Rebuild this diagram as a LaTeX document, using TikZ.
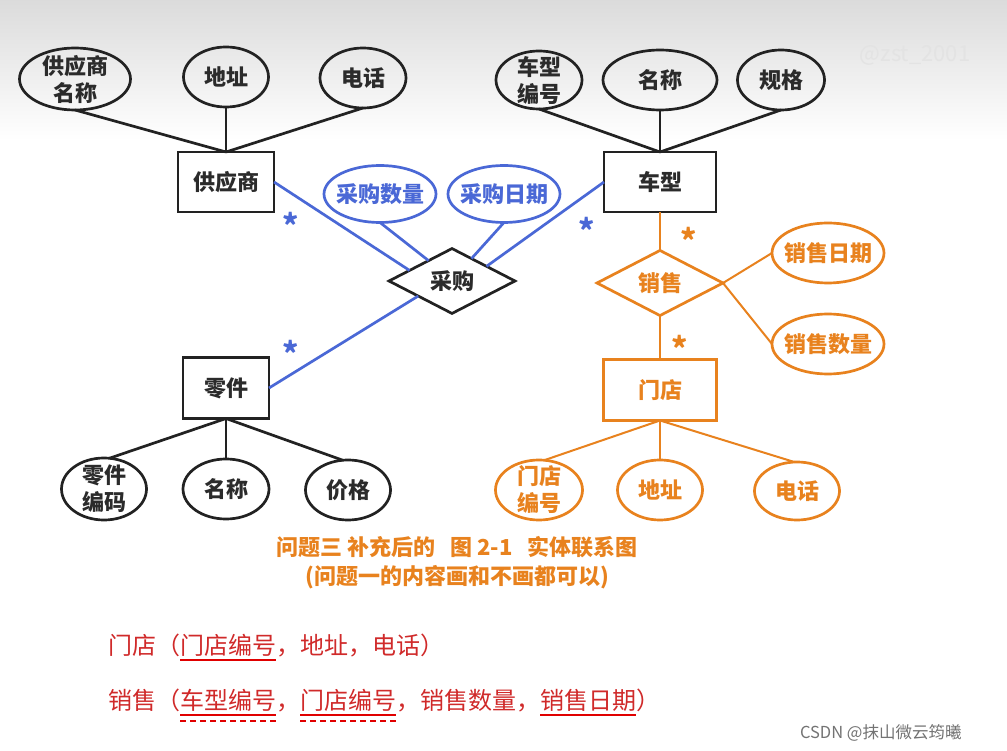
\documentclass[tikz,border=0pt]{standalone}
\usepackage{fontspec}
\setmainfont{Noto Sans CJK SC}
\usetikzlibrary{shapes.geometric}
\definecolor{dk}{HTML}{222222}
\definecolor{dktext}{HTML}{2B2B2B}
\definecolor{bl}{HTML}{4A68D6}
\definecolor{og}{HTML}{E8821E}
\definecolor{rd}{HTML}{D02A2A}
\definecolor{ulred}{HTML}{E00000}
\begin{document}
\begin{tikzpicture}[x=1pt,y=-1pt,
  every node/.style={inner sep=0pt, outer sep=0pt, font=\fontsize{22}{27}\selectfont\bfseries},
  attr/.style={ellipse, draw, line width=2.7pt},
  ent/.style={rectangle, draw, line width=2.7pt},
  rel/.style={diamond, draw, line width=2.7pt},
  blk/.style={draw=dk, text=dktext},
  blu/.style={draw=bl, text=bl},
  org/.style={draw=og, text=og},
  lblk/.style={align=center, text=dktext},
  lblu/.style={align=center, text=bl},
  lorg/.style={align=center, text=og},
  dline/.style={draw=dk, line width=2.7pt},
  bline/.style={draw=bl, line width=2.7pt},
  oline/.style={draw=og, line width=2pt},
  star/.style={font=\fontsize{31}{31}\selectfont\bfseries, anchor=base},
  rt/.style={font=\fontsize{24}{28}\selectfont\mdseries, text=rd, anchor=base west},
  ul/.style={draw=ulred, line width=2.6pt},
  uld/.style={draw=ulred, line width=1.8pt, dash pattern=on 6pt off 4pt}
]
\useasboundingbox (0,0) rectangle (1007,751);
\fill[white] (0,0) rectangle (1007,751);
\shade[top color=black!14, bottom color=white] (0,0) rectangle (1007,140);
\node[font=\fontsize{22}{22}\selectfont, text=black!11] (wm) at (915,55) {@zst\_2001};

% ---------- supplier ----------
\node[attr, blk, minimum width=111pt, minimum height=62pt, label={[lblk]center:供应商\\名称}] (gysmc) at (75,79) {};
\node[attr, blk, minimum width=85pt, minimum height=60pt, label={[lblk]center:地址}] (gysdz) at (226,77) {};
\node[attr, blk, minimum width=86pt, minimum height=60pt, label={[lblk]center:电话}] (gysdh) at (363,78) {};
\node[ent, blk, minimum width=96pt, minimum height=60pt] (gys) at (226,182) {供应商};
\draw[dline] (gysmc.south) -- (gys.north);
\draw[dline] (gysdz.south) -- (gys.north);
\draw[dline] (gysdh.south) -- (gys.north);

% ---------- car model ----------
\node[attr, blk, minimum width=86pt, minimum height=58pt, label={[lblk]center:车型\\编号}] (cxbh) at (539,80) {};
\node[attr, blk, minimum width=114pt, minimum height=60pt, label={[lblk]center:名称}] (cxmc) at (660,80) {};
\node[attr, blk, minimum width=87pt, minimum height=60pt, label={[lblk]center:规格}] (cxgg) at (781,80) {};
\node[ent, blk, minimum width=112pt, minimum height=60pt] (cx) at (660,182) {车型};
\draw[dline] (cxbh.south) -- (cx.north);
\draw[dline] (cxmc.south) -- (cx.north);
\draw[dline] (cxgg.south) -- (cx.north);

% ---------- part ----------
\node[ent, blk, minimum width=86pt, minimum height=61pt] (lj) at (226,388) {零件};
\node[attr, blk, minimum width=85pt, minimum height=62pt, label={[lblk]center:零件\\编码}] (ljbm) at (104,489) {};
\node[attr, blk, minimum width=86pt, minimum height=60pt, label={[lblk]center:名称}] (ljmc) at (226,489) {};
\node[attr, blk, minimum width=85pt, minimum height=60pt, label={[lblk]center:价格}] (ljjg) at (348,490) {};
\draw[dline] (lj.south) -- (ljbm.80);
\draw[dline] (lj.south) -- (ljmc.north);
\draw[dline] (lj.south) -- (ljjg.100);

% ---------- purchase ----------
\node[rel, blk, minimum width=126pt, minimum height=64pt] (cg) at (452,281) {采购};
\node[attr, blu, minimum width=112pt, minimum height=57pt, label={[lblu]center:采购数量}] (cgsl) at (380,194) {};
\node[attr, blu, minimum width=112pt, minimum height=57pt, label={[lblu]center:采购日期}] (cgrq) at (504,194) {};
\draw[bline] (gys.east) -- (cg.166);
\draw[bline] (cx.west) -- (cg.23);
\draw[bline] (lj.east) -- (cg.204);
\draw[bline] (cgsl.south) -- (cg.139);
\draw[bline] (cgrq.south) -- (cg.49);
\node[star, text=bl] (s1) at (291,238) {*};
\node[star, text=bl] (s2) at (587,243) {*};
\node[star, text=bl] (s3) at (291,366) {*};

% ---------- sale ----------
\node[rel, org, minimum width=126pt, minimum height=62pt] (xs) at (660,283) {销售};
\node[ent, org, minimum width=113pt, minimum height=61pt] (md) at (660,390) {门店};
\node[attr, org, minimum width=112pt, minimum height=60pt, label={[lorg]center:销售日期}] (xsrq) at (828,253) {};
\node[attr, org, minimum width=112pt, minimum height=60pt, label={[lorg]center:销售数量}] (xssl) at (828,344) {};
\node[attr, org, minimum width=87pt, minimum height=60pt, label={[lorg]center:门店\\编号}] (mdbh) at (539,490) {};
\node[attr, org, minimum width=85pt, minimum height=60pt, label={[lorg]center:地址}] (mddz) at (660,490) {};
\node[attr, org, minimum width=85pt, minimum height=58pt, label={[lorg]center:电话}] (mddh) at (797,491) {};
\draw[oline] (cx.south) -- (xs.north);
\draw[oline] (xs.south) -- (md.north);
\draw[oline] (xs.east) -- (xsrq.west);
\draw[oline] (xs.east) -- (xssl.west);
\draw[oline] (md.south) -- (mdbh.80);
\draw[oline] (md.south) -- (mddz.north);
\draw[oline] (md.south) -- (mddh.95);
\node[star, text=og] (s4) at (689,253) {*};
\node[star, text=og] (s5) at (680,360) {*};

% ---------- caption ----------
\node[text=og, align=center, font=\fontsize{22}{29}\selectfont\bfseries] (cap) at (457,563) {问题三 补充后的\ \ \ 图 2-1\ \ \ 实体联系图\\(问题一的内容画和不画都可以)};

% ---------- relational schema ----------
\node[rt] (a1) at (108,654) {门店（};
\node[rt] (a2) at (a1.base east) {门店编号};
\node[rt] (a3) at (a2.base east) {，地址，电话）};
\draw[ul] ([yshift=-6pt]a2.base west) -- ([yshift=-6pt]a2.base east);

\node[rt] (b1) at (108,709) {销售（};
\node[rt] (b2) at (b1.base east) {车型编号};
\node[rt] (b3) at (b2.base east) {，};
\node[rt] (b4) at (b3.base east) {门店编号};
\node[rt] (b5) at (b4.base east) {，销售数量，};
\node[rt] (b6) at (b5.base east) {销售日期};
\node[rt] (b7) at (b6.base east) {）};
\draw[ul] ([yshift=-6pt]b2.base west) -- ([yshift=-6pt]b2.base east);
\draw[ul] ([yshift=-6pt]b4.base west) -- ([yshift=-6pt]b4.base east);
\draw[ul] ([yshift=-6pt]b6.base west) -- ([yshift=-6pt]b6.base east);
\draw[uld] ([yshift=-12pt]b2.base west) -- ([yshift=-12pt]b2.base east);
\draw[uld] ([yshift=-12pt]b4.base west) -- ([yshift=-12pt]b4.base east);

\node[font=\fontsize{16.5}{18}\selectfont\mdseries, text=black!55, anchor=base west] (csdn) at (800,738) {CSDN @抹山微云筠曦};
\end{tikzpicture}
\end{document}
